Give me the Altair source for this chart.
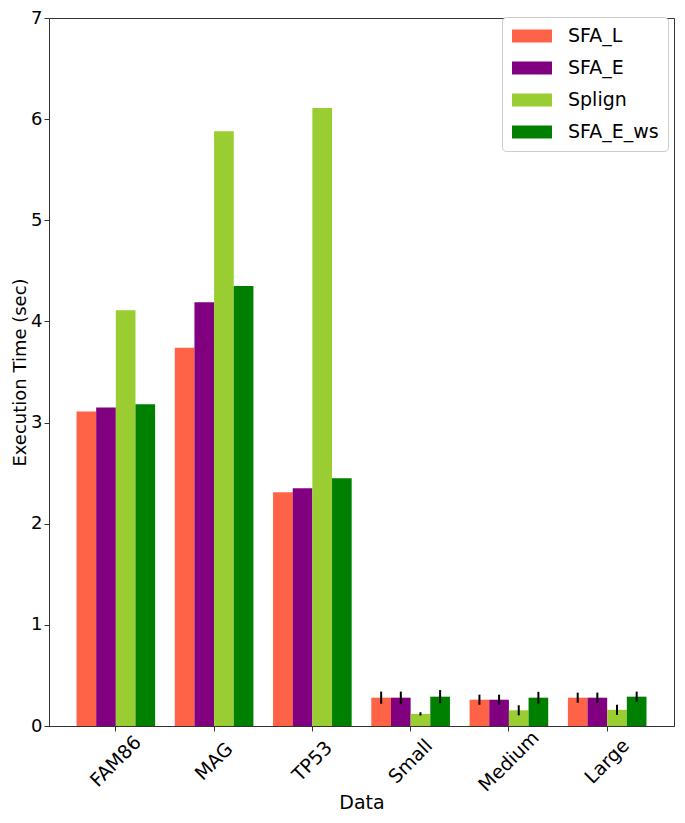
import altair as alt
import pandas as pd

categories = ["FAM86", "MAG", "TP53", "Small", "Medium", "Large"]
series = ["SFA_L", "SFA_E", "Splign", "SFA_E_ws"]
colors = ["#ff6347", "#800080", "#9acd32", "#008000"]

sfa_l = [3.11, 3.74, 2.31, 0.28, 0.26, 0.28]
sfa_e = [3.15, 4.19, 2.35, 0.28, 0.26, 0.28]
splign = [4.11, 5.88, 6.11, 0.12, 0.155, 0.16]
sfa_e_ws = [3.18, 4.35, 2.45, 0.29, 0.28, 0.29]

err_l = [0, 0, 0, 0.06, 0.05, 0.05]
err_e = [0, 0, 0, 0.06, 0.05, 0.05]
err_splign = [0, 0, 0, 0.016, 0.05, 0.05]
err_ws = [0, 0, 0, 0.065, 0.058, 0.05]

rows = []
for s, vals, errs in zip(series, [sfa_l, sfa_e, splign, sfa_e_ws],
                         [err_l, err_e, err_splign, err_ws]):
    for c, v, e in zip(categories, vals, errs):
        rows.append({"Data": c, "Series": s, "value": v, "lo": v - e, "hi": v + e, "err": e})
df = pd.DataFrame(rows)

font = "DejaVu Sans"

x = alt.X("Data:N", sort=categories, title="Data",
          scale=alt.Scale(paddingInner=0.2, paddingOuter=0.28),
          axis=alt.Axis(labelAngle=-45, labelAlign="center", labelBaseline="middle",
                        labelFontSize=19, titleFontSize=19, titleY=67, titleBaseline="top",
                        tickSize=5, labelPadding=30))
xo = alt.XOffset("Series:N", sort=series, scale=alt.Scale(paddingInner=0, paddingOuter=0))

bars = alt.Chart(df).mark_bar(stroke=None).encode(
    x=x,
    xOffset=xo,
    y=alt.Y("value:Q", title="Execution Time (sec)",
            scale=alt.Scale(domain=[0, 7], nice=False),
            axis=alt.Axis(values=list(range(8)), format="d", labelFontSize=18, titleFontSize=18,
                          grid=False, tickSize=5, labelPadding=2, titlePadding=1)),
    color=alt.Color("Series:N", sort=series, title=None,
                    scale=alt.Scale(domain=series, range=colors),
                    legend=alt.Legend(orient="none", legendX=453, legendY=-1,
                                      symbolType="M-2,-0.66H2V0.66H-2Z", symbolSize=400,
                                      symbolStrokeWidth=0, labelFontSize=19,
                                      labelFont=font, rowPadding=12, padding=9,
                                      strokeColor="#cccccc", cornerRadius=4,
                                      fillColor="white", symbolOffset=11, labelOffset=26)),
)

errs = alt.Chart(df[df["err"] > 0]).mark_rule(color="black", strokeWidth=2).encode(
    x=alt.X("Data:N", sort=categories),
    xOffset=alt.XOffset("Series:N", sort=series),
    y="lo:Q",
    y2="hi:Q",
)

chart = alt.layer(bars, errs).properties(
    width=625, height=708,
    autosize=alt.AutoSizeParams(type="none"),
    padding={"left": 41, "top": 10, "right": 1, "bottom": 89},
).configure_view(stroke="#333333", strokeWidth=1).configure_axis(
    labelFont=font, titleFont=font, labelColor="black", titleColor="black",
    domainColor="#333333", tickColor="#333333", titleFontWeight="normal"
)

chart.save("out.html", embed_options={"renderer": "svg", "actions": False})
